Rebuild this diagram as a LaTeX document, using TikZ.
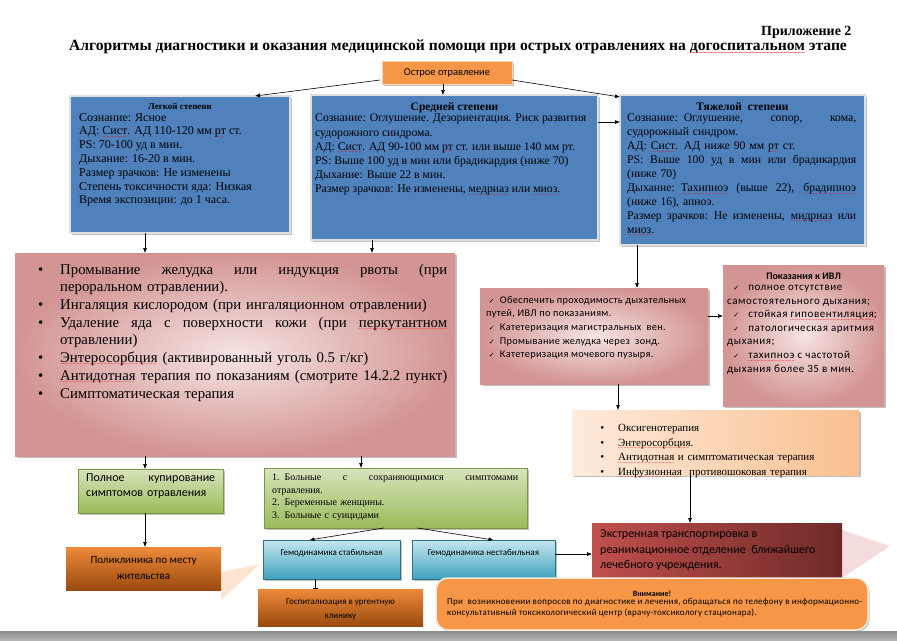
\documentclass[tikz,border=0pt]{standalone}
\usepackage{fontspec}
\setmainfont{Liberation Serif}
\setsansfont{Carlito}
\newfontfamily\symfont{DejaVu Sans}
\newfontfamily\sansw[LetterSpace=5]{Carlito}
\newfontfamily\sansn[LetterSpace=3]{Carlito}
\usepackage{enumitem}
\usetikzlibrary{arrows.meta,shadows,calc}

\definecolor{blueA}{HTML}{4F81BD}
\definecolor{pinkL}{HTML}{F5E4E3}
\definecolor{pinkD}{HTML}{D39593}
\definecolor{orangeA}{HTML}{F79646}
\definecolor{orangeL}{HTML}{FDEBDC}
\definecolor{orangeM}{HTML}{FAC090}
\definecolor{greenL}{HTML}{D7E4BD}
\definecolor{greenD}{HTML}{9BBB59}
\definecolor{cyanL}{HTML}{C6E6EF}
\definecolor{cyanD}{HTML}{3FA3BF}
\definecolor{brownL}{HTML}{EE8A3A}
\definecolor{brownD}{HTML}{9A4A0E}
\definecolor{redL}{HTML}{C0504D}
\definecolor{redD}{HTML}{6E2A28}

\newcommand\chk{{\symfont\fontsize{7}{8}\selectfont ✓}}
% full justified line of a given width
\newcommand\fl[2]{{\spaceskip=.25em plus 1fil minus .08em\makebox[#1][s]{#2}}}
\newcommand\jl[2]{\fl{#1}{#2}\newline}
% spell-check mark under a word
\newcommand\sq[1]{\leavevmode{\setbox0\hbox{#1}\rlap{\color{red}\raisebox{-2.6pt}[0pt][0pt]{\hbox to \wd0{\fontsize{6}{6}\selectfont\leaders\hbox to 1.4pt{\hss.\hss}\hfil}}}\box0}}

\tikzset{
  box/.style={anchor=north west, inner sep=0pt, outer sep=0pt},
  shad/.style={drop shadow={shadow xshift=1.5pt, shadow yshift=-1.5pt, opacity=.35, fill=black!70}},
  hdrbox/.style={box, shad, fill=orangeA, draw=orangeA!40, line width=.8pt},
  bluebox/.style={box, shad, fill=blueA, draw=black!12, line width=1.5pt},
  pinkbox/.style={box, shad, inner color=pinkL, outer color=pinkD},
  peachbox/.style={box, shad, left color=orangeL, right color=orangeM},
  greenbox/.style={box, shad, top color=greenL, bottom color=greenD, draw=greenD!80!black, line width=.3pt},
  cyanbox/.style={box, shad, top color=cyanL, bottom color=cyanD, draw=cyanD!70!black, line width=.3pt},
  brownbox/.style={box, top color=brownL, bottom color=brownD},
  redbox/.style={box, left color=redL, right color=redD},
  notebox/.style={box, shad, fill=orangeA, draw=orangeL, line width=1.5pt, rounded corners=12pt},
  txt/.style={anchor=north west, inner sep=0pt, align=left},
  arr/.style={-{Latex[length=5pt,width=4pt]}, line width=.6pt},
}

\begin{document}
\begin{tikzpicture}[x=1pt,y=-1pt]

\useasboundingbox[fill=white] (0,0) rectangle (897,640);

% heading
\node[anchor=east, font=\bfseries\fontsize{14}{16}\selectfont] (app) at (855,32) {Приложение 2};
\node[font=\bfseries\fontsize{15.6}{17}\selectfont] (title) at (458,47)
  {Алгоритмы диагностики и оказания медицинской помощи при острых отравлениях на \sq{догоспитальном} этапе};

% pale wedges behind the lower boxes
\fill[orangeA!25] (221,572) -- (260,564) -- (221,600) -- cycle;
\fill[redL!20] (842,530) -- (890,546) -- (842,578) -- cycle;

% boxes
\node[hdrbox, minimum width=130pt, minimum height=23pt] (otr) at (382,61) {};
\node[font=\sffamily\fontsize{10.5}{12}\selectfont] (otrt) at (otr.center) {Острое отравление};

\node[bluebox, minimum width=220pt, minimum height=137pt] (lg) at (70,96) {};
\node[bluebox, minimum width=287pt, minimum height=145pt] (sr) at (311,95) {};
\node[bluebox, minimum width=245pt, minimum height=150pt] (tj) at (620,95) {};

\node[pinkbox, minimum width=440pt, minimum height=203pt] (bigp) at (15,253) {};
\node[pinkbox, minimum width=228pt, minimum height=96pt] (pk) at (480,288) {};
\node[pinkbox, minimum width=161pt, minimum height=141pt] (ivl) at (723,265) {};
\node[peachbox, minimum width=287pt, minimum height=65pt] (oks) at (572,410) {};

\node[greenbox, minimum width=145pt, minimum height=44pt] (gr1) at (78,469) {};
\node[greenbox, minimum width=263pt, minimum height=60pt] (gr2) at (264,468) {};
\node[brownbox, minimum width=155pt, minimum height=43pt] (pol) at (66,547) {};
\node[cyanbox, minimum width=137pt, minimum height=39pt] (gst) at (263,540) {};
\node[cyanbox, minimum width=143pt, minimum height=39pt] (gnst) at (412,540) {};
\node[brownbox, minimum width=165pt, minimum height=37pt] (gosp) at (258,589) {};
\node[redbox, minimum width=250pt, minimum height=55pt] (ekst) at (592,523) {};
\node[notebox, minimum width=432pt, minimum height=52pt] (vnim) at (436,578) {};

% bottom band
\shade[top color=black!45, bottom color=black!30] (0,631) rectangle (897,640);

% texts of the upper boxes
\node[anchor=north, font=\bfseries\fontsize{9}{10}\selectfont] (lgh) at ([shift={(0,4)}]lg.north) {Легкой степени};
\node[txt, font=\rmfamily\fontsize{12}{13.8}\selectfont] (lgt) at ([shift={(9,17)}]lg.north west) {%
Сознание: Ясное\\
АД: \sq{Сист}. АД 110-120 мм \sq{рт} ст.\\
PS: 70-100 уд в мин.\\
Дыхание: 16-20 в мин.\\
Размер зрачков: Не изменены\\
Степень токсичности яда: Низкая\\
Время экспозиции: до 1 часа.};

\node[anchor=north, font=\bfseries\fontsize{11.5}{12}\selectfont] (srh) at ([shift={(0,4)}]sr.north) {Средней степени};
\node[txt, font=\rmfamily\fontsize{11.7}{14.2}\selectfont] (srt) at ([shift={(4,19)}]sr.north west) {%
Сознание: Оглушение. Дезориентация. Риск развития\\
судорожного синдрома.\\
АД: \sq{Сист}. АД 90-100 мм \sq{рт} ст. или выше 140 мм рт.\\
PS: Выше 100 уд в мин или брадикардия (ниже 70)\\
Дыхание: Выше 22 в мин.\\
Размер зрачков: Не изменены, \sq{медриаз} или \sq{миоз}.};

\node[anchor=north, font=\bfseries\fontsize{11.5}{12}\selectfont] (tjh) at ([shift={(0,4)}]tj.north) {Тяжелой\ \ степени};
\node[txt, font=\rmfamily\fontsize{11.7}{13.9}\selectfont, text width=229pt] (tjt) at ([shift={(7,19)}]tj.north west) {%
\jl{229pt}{Сознание: Оглушение, сопор, кома,}
судорожный синдром.\\
АД: \sq{Сист}. АД ниже 90 мм \sq{рт} ст.\\
\jl{229pt}{PS: Выше 100 уд в мин или брадикардия}
(ниже 70)\\
\jl{229pt}{Дыхание: \sq{Тахипноэ} (выше 22), \sq{брадипноэ}}
(ниже 16), апноэ.\\
\jl{229pt}{Размер зрачков: Не изменены, \sq{мидриаз} или}
\sq{миоз}.};

% first aid list
\node[txt, font=\rmfamily\fontsize{14.8}{17}\selectfont, text width=409pt] (bigt) at ([shift={(23,4)}]bigp.north west) {%
\begin{itemize}[leftmargin=22pt, labelsep=17pt, itemsep=1pt, topsep=0pt, parsep=0pt]
\item \jl{387pt}{Промывание желудка или индукция рвоты (при}пероральном отравлении).
\item Ингаляция кислородом (при ингаляционном отравлении)
\item \jl{387pt}{Удаление яда с поверхности кожи (при \sq{перкутантном}}отравлении)
\item \sq{Энтеросорбция} (активированный уголь 0.5 г/кг)
\item \fl{387pt}{\sq{Антидотная} терапия по показаниям (смотрите 14.2.2 пункт)}
\item Симптоматическая терапия
\end{itemize}};

\node[txt, font=\sansn\fontsize{10.3}{13.6}\selectfont] (pkt) at ([shift={(6,8)}]pk.north west) {%
\ \chk\ \ Обеспечить проходимость дыхательных\\
путей, ИВЛ по показаниям.\\
\ \chk\ \ Катетеризация магистральных\ \ вен.\\
\ \chk\ \ Промывание желудка через\ \ зонд.\\
\ \chk\ \ Катетеризация мочевого пузыря.};

\node[anchor=north, font=\sffamily\bfseries\fontsize{10}{11}\selectfont] (ivlh) at ([shift={(0,4)}]ivl.north) {Показания к ИВЛ};
\node[txt, font=\sansw\fontsize{11}{13.6}\selectfont] (ivlt) at ([shift={(4,20)}]ivl.north west) {%
\ \ \chk\ \ \ полное отсутствие\\
самостоятельного дыхания;\\
\ \ \chk\ \ \ стойкая \sq{гиповентиляция};\\
\ \ \chk\ \ \ патологическая аритмия\\
дыхания;\\
\ \ \chk\ \ \ \sq{тахипноэ} с частотой\\
дыхания более 35 в мин.};

\node[txt, font=\rmfamily\fontsize{11}{14.5}\selectfont, text width=260pt] (okst) at ([shift={(24,7)}]oks.north west) {%
\begin{itemize}[leftmargin=22pt, labelsep=14pt, itemsep=0pt, topsep=0pt, parsep=0pt]
\item Оксигенотерапия
\item \sq{Энтеросорбция}.
\item \sq{Антидотная} и симптоматическая терапия
\item \sq{Инфузионная}\ \ противошоковая терапия
\end{itemize}};

% texts of the lower boxes
\node[txt, font=\sffamily\fontsize{12}{15}\selectfont, text width=129pt] (gr1t) at ([shift={(8,5)}]gr1.north west) {%
\jl{129pt}{Полное купирование}
симптомов отравления};

\node[txt, font=\rmfamily\fontsize{10}{12.5}\selectfont, text width=246pt] (gr2t) at ([shift={(8,6)}]gr2.north west) {%
\jl{246pt}{1. Больные с сохраняющимися симптомами}
отравления.\\
2. Беременные женщины.\\
3. Больные с суицидами};

\node[align=center, font=\sffamily\fontsize{11}{16}\selectfont] (polt) at (pol.center) {Поликлиника по месту\\жительства};
\node[anchor=north, font=\sffamily\fontsize{9}{11}\selectfont] (gstt) at ([shift={(0,6)}]gst.north) {Гемодинамика стабильная};
\node[anchor=north, font=\sffamily\fontsize{9}{11}\selectfont] (gnstt) at ([shift={(0,6)}]gnst.north) {Гемодинамика нестабильная};
\node[align=center, font=\sffamily\fontsize{9}{14}\selectfont] (gospt) at ([shift={(0,2)}]gosp.center) {Госпитализация в ургентную\\клинику};

\node[txt, font=\sffamily\fontsize{12}{15.5}\selectfont] (ekstt) at ([shift={(8,7)}]ekst.north west) {%
Экстренная транспортировка в\\
реанимационное отделение\ \ ближайшего\\
лечебного учреждения.};

\node[anchor=north, font=\sffamily\bfseries\fontsize{8}{9}\selectfont] (vnimh) at ([shift={(0,9)}]vnim.north) {Внимание!};
\node[txt, font=\sansn\fontsize{9}{11.5}\selectfont] (vnimt) at ([shift={(11,20)}]vnim.north west) {%
При\ \ возникновении вопросов по диагностике и лечения, обращаться по телефону в информационно-\\
консультативный токсикологический центр (врачу-токсикологу стационара).};

% connectors
\coordinate (c1) at (145,0);
\coordinate (c2) at (372,0);
\coordinate (c3) at (443,0);
\coordinate (c4) at (637,0);
\coordinate (c5) at (618,0);
\coordinate (c6) at (690,0);
\coordinate (c7) at (361,0);
\coordinate (c8) at (315,0);

\draw[arr] ([shift={(-2,-4)}]otr.south west) -- ([xshift=-35]lg.north east);
\draw[arr] (c3 |- otr.south) -- (c3 |- sr.north);
\draw[arr] ([shift={(0,-4)}]otr.south east) -- ([shift={(0,2)}]tj.north west);
\draw[arr] ([shift={(0,27)}]sr.north east) -- ([shift={(0,27)}]tj.north west);

\draw[arr] (c1 |- lg.south) -- (c1 |- bigp.north);
\draw[arr] (c2 |- sr.south) -- (c2 |- bigp.north);
\draw[arr] (c4 |- tj.south) -- (c4 |- pk.north);
\draw[arr] ([shift={(0,28)}]pk.north east) -- ([shift={(0,51)}]ivl.north west);
\draw[arr] (c5 |- pk.south) -- (c5 |- oks.north);
\draw[arr] (c6 |- oks.south) -- (c6 |- ekst.north);

\draw[arr] (c1 |- bigp.south) -- (c1 |- gr1.north);
\draw[arr] (c7 |- bigp.south) -- (c7 |- gr2.north);
\draw[arr] (c1 |- gr1.south) -- (c1 |- pol.north);
\draw[arr] ([xshift=-12]gr2.south) -- ([xshift=-22]gst.north);
\draw[arr] ([xshift=22]gr2.south) -- ([xshift=10]gnst.north);
\draw[arr] ([shift={(0,14)}]gnst.north east) -- ([shift={(0,14)}]gnst.north east -| ekst.west);
\draw[-{Bar[width=5pt]}, line width=.6pt] (c8 |- gst.south) -- (c8 |- gosp.north);

\end{tikzpicture}
\end{document}
